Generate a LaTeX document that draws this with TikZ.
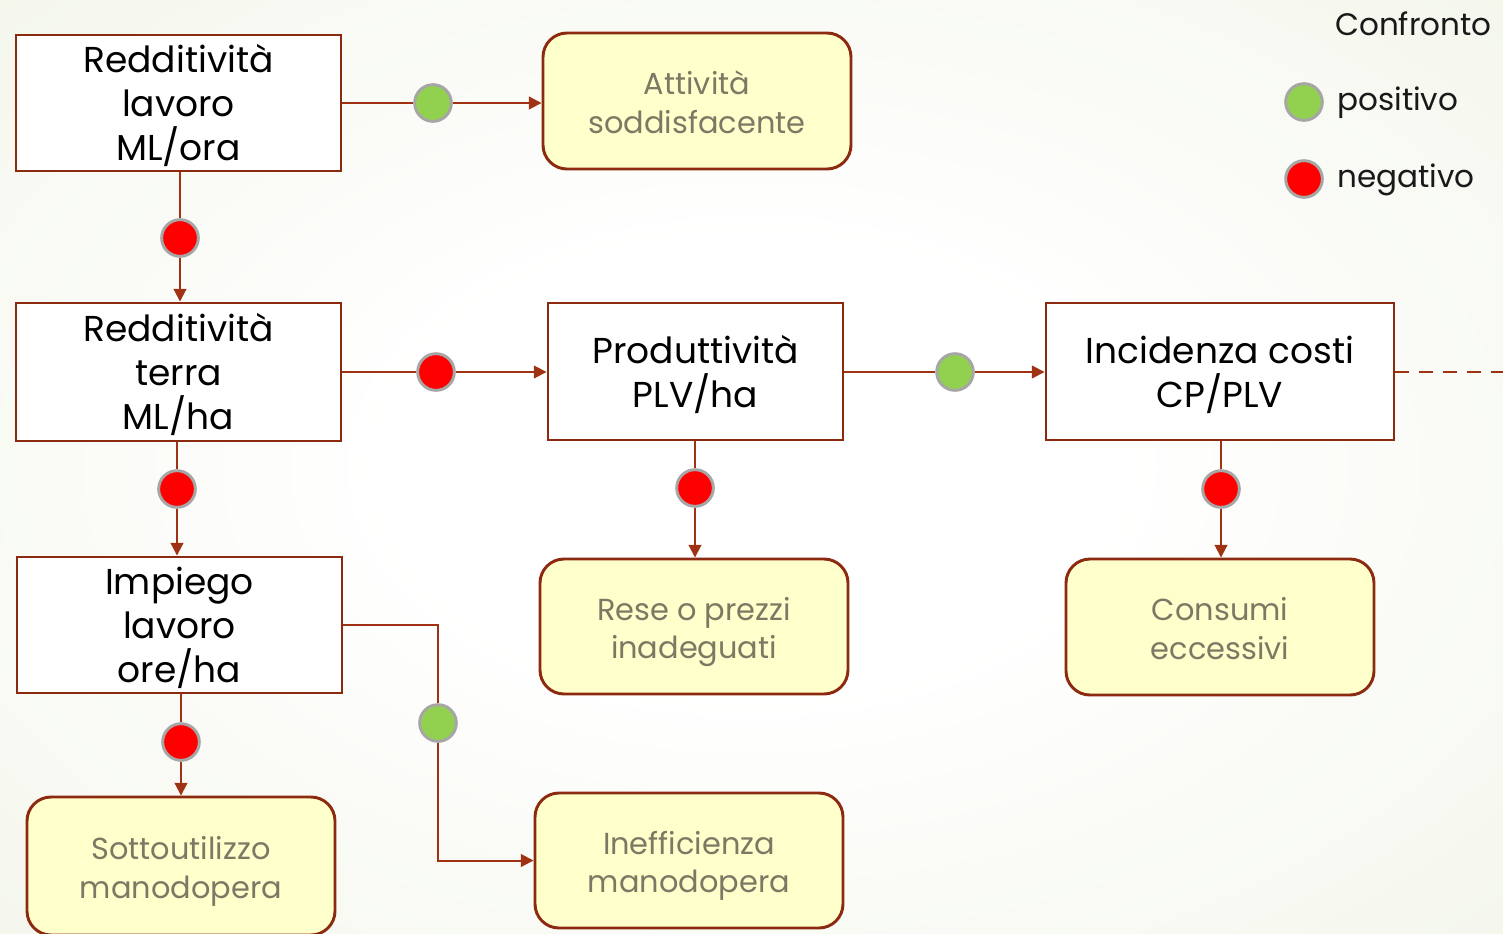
\documentclass[tikz,border=0pt]{standalone}
\usepackage{fontspec}
\setmainfont{Poppins}
\usetikzlibrary{arrows.meta,calc}
\definecolor{brd}{RGB}{140,42,16}
\definecolor{lne}{RGB}{160,50,20}
\definecolor{ylw}{RGB}{255,255,204}
\definecolor{gtx}{RGB}{125,120,100}
\definecolor{gdotc}{RGB}{146,208,80}
\definecolor{rdotc}{RGB}{255,0,0}
\definecolor{dotb}{RGB}{166,166,166}
\definecolor{bgmid}{RGB}{238,242,226}
\definecolor{bgout}{RGB}{229,236,212}
\pgfdeclareradialshading{bgshade}{\pgfpoint{0bp}{0bp}}{color(0bp)=(white); color(12bp)=(white); color(50bp)=(bgmid); color(72bp)=(bgout)}
\newcommand\tstrut{\rule{0pt}{25pt}}
\newcommand\ytop{\rule{0pt}{25.5pt}}
\newcommand\ybot{\rule[-6pt]{0pt}{0pt}}
\tikzset{
  wbox/.style={draw=brd, line width=2.2pt, fill=white, align=center, inner sep=0pt,
    font=\fontsize{27}{33}\selectfont, text=black},
  ybox/.style={draw=brd, line width=2.2pt, fill=ylw, rounded corners=18pt, align=center, inner sep=0pt,
    font=\fontsize{22.8}{29}\selectfont, text=gtx},
  conn/.style={draw=lne, line width=1.5pt},
  carr/.style={conn, -{Triangle[length=9.5pt,width=9.5pt]}},
  gdot/.style={circle, fill=gdotc, draw=dotb, line width=2.2pt, minimum size=27.5pt, inner sep=0pt},
  rdot/.style={circle, fill=rdotc, draw=dotb, line width=2.2pt, minimum size=27.5pt, inner sep=0pt},
  leg/.style={font=\fontsize{23.3}{27}\selectfont, text=black!90, anchor=west, inner sep=0pt}
}
\begin{document}
\begin{tikzpicture}[x=0.75pt,y=-0.75pt]
\shade[shading=bgshade] (0,0) rectangle (1503,933);
\useasboundingbox (0,0) rectangle (1503,933);
% boxes
\node[wbox, minimum width=325*0.75pt, minimum height=136*0.75pt] (A) at (178.5,103) {\tstrut Redditività\\lavoro\\ML/ora};
\node[ybox, minimum width=308*0.75pt, minimum height=136*0.75pt] (B) at (697,101) {\ytop Attività\\soddisfacente\ybot};
\node[wbox, minimum width=325*0.75pt, minimum height=138*0.75pt] (C) at (178.5,372) {\tstrut Redditività\\terra\\ML/ha};
\node[wbox, minimum width=295*0.75pt, minimum height=137*0.75pt] (D) at (695.5,371.5) {\tstrut Produttività\\PLV/ha};
\node[wbox, minimum width=348*0.75pt, minimum height=137*0.75pt] (E) at (1220,371.5) {\tstrut Incidenza costi\\CP/PLV};
\node[wbox, minimum width=325*0.75pt, minimum height=136*0.75pt] (F) at (179.5,625) {\tstrut Impiego\\lavoro\\ore/ha};
\node[ybox, minimum width=308*0.75pt, minimum height=135*0.75pt] (G) at (694,626.5) {\ytop Rese o prezzi\\inadeguati\ybot};
\node[ybox, minimum width=308*0.75pt, minimum height=136*0.75pt] (H) at (1220,627) {\ytop Consumi\\eccessivi\ybot};
\node[ybox, minimum width=308*0.75pt, minimum height=138*0.75pt] (I) at (181,866) {\ytop Sottoutilizzo\\manodopera\ybot};
\node[ybox, minimum width=308*0.75pt, minimum height=135*0.75pt] (J) at (689,860.5) {\ytop Inefficienza\\manodopera\ybot};
% dots
\node[gdot] (d1) at (433,103) {};
\node[rdot] (d2) at (180,238) {};
\node[rdot] (d3) at (436,372) {};
\node[gdot] (d4) at (955,372) {};
\node[rdot] (d5) at (177,489) {};
\node[rdot] (d6) at (695,488) {};
\node[rdot] (d7) at (1221,489) {};
\node[rdot] (d8) at (181,742) {};
\node[gdot] (d9) at (438,723) {};
\coordinate (fj) at (438,625);
\coordinate (dend) at (1503,372);
% connectors
\draw[conn] (A.east |- d1) -- (d1);
\draw[carr] (d1) -- (d1 -| B.west);
\draw[conn] (A.south -| d2) -- (d2);
\draw[carr] (d2) -- (d2 |- C.north);
\draw[conn] (C.east |- d3) -- (d3);
\draw[carr] (d3) -- (d3 -| D.west);
\draw[conn] (D.east |- d4) -- (d4);
\draw[carr] (d4) -- (d4 -| E.west);
\draw[conn] (C.south -| d5) -- (d5);
\draw[carr] (d5) -- (d5 |- F.north);
\draw[conn] (D.south -| d6) -- (d6);
\draw[carr] (d6) -- (d6 |- G.north);
\draw[conn] (E.south -| d7) -- (d7);
\draw[carr] (d7) -- (d7 |- H.north);
\draw[conn] (F.south -| d8) -- (d8);
\draw[carr] (d8) -- (d8 |- I.north);
\draw[conn] (F.east |- fj) -- (fj) -- (d9);
\draw[carr] (d9) |- (J.west);
\draw[conn, dash pattern=on 10pt off 8pt, line width=1.6pt] (E.east |- dend) -- (dend);
% legend
\node[leg, anchor=east] (conf) at (1492,24) {Confronto};
\node[gdot] (lg) at (1304,102) {};
\node[leg] (lgt) at (1337,103) {positivo};
\node[rdot] (lr) at (1304,179) {};
\node[leg] (lrt) at (1337,180) {negativo};
\end{tikzpicture}
\end{document}
